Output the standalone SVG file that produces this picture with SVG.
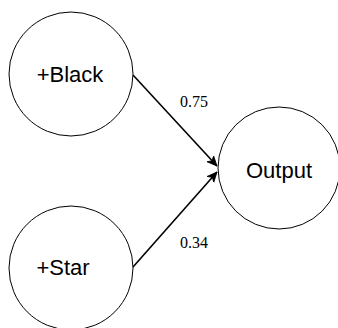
<svg xmlns="http://www.w3.org/2000/svg" width="338" height="328" viewBox="0 0 338 328">
<defs>
<style>
.node circle{fill:#fff;stroke:#000;stroke-width:1}
.node text{font-family:"Liberation Sans",Arial,sans-serif;font-size:22px;fill:#000;text-anchor:middle}
.edge{stroke:#000;stroke-width:1.6;fill:none;marker-end:url(#arr)}
.lbl{font-family:"Liberation Serif","Times New Roman",serif;font-size:16px;fill:#000}
</style>
<marker id="arr" markerWidth="12" markerHeight="12" refX="10" refY="5" orient="auto" markerUnits="userSpaceOnUse">
<path d="M0,0.5 L10,5 L0,9.5 L3,5 Z" fill="#000" stroke="#000" stroke-width="0.8" stroke-linejoin="miter"/>
</marker>
</defs>
<rect width="338" height="328" fill="#fff"/>
<g id="connectors">
<line class="edge" x1="133" y1="75" x2="217" y2="166"/>
<line class="edge" x1="133" y1="267" x2="217" y2="172"/>
<text class="lbl" x="180" y="107">0.75</text>
<text class="lbl" x="180" y="248">0.34</text>
</g>
<g id="black" class="node">
<circle cx="71" cy="74" r="62"/>
<text x="70" y="82">+Black</text>
</g>
<g id="star" class="node">
<circle cx="71" cy="268" r="62"/>
<text x="63" y="275">+Star</text>
</g>
<g id="output" class="node">
<circle cx="279" cy="168" r="61"/>
<text x="279" y="178">Output</text>
</g>
</svg>
